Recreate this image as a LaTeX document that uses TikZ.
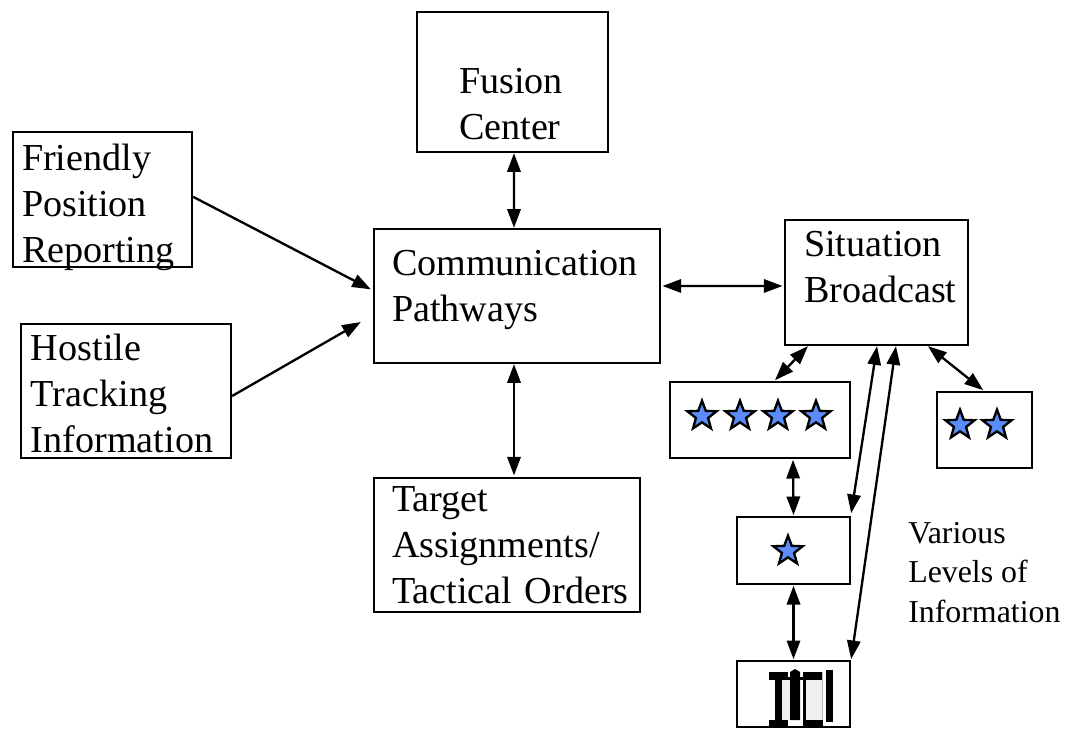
\documentclass[tikz,border=0pt]{standalone}
\usepackage{fontspec}
\setmainfont{Liberation Serif}
\usetikzlibrary{arrows.meta,shapes.geometric}

\tikzset{
  txtbox/.style={draw,line width=1.75pt,inner ysep=0pt,align=left,font=\fontsize{28.6}{34.5}\selectfont},
  rankbox/.style={draw,line width=1.75pt},
  rankstar/.style={draw,line width=1.75pt,fill=starblue,star,star points=5,star point ratio=2.4,minimum size=23pt,inner sep=0pt},
  link/.style={line width=1.75pt,{Triangle[length=14pt,width=10pt]}-{Triangle[length=14pt,width=10pt]}},
  feed/.style={line width=1.75pt,-{Triangle[length=14pt,width=10pt]}}
}
\definecolor{starblue}{RGB}{90,140,250}

\begin{document}
\begin{tikzpicture}[x=0.75pt,y=0.75pt,yscale=-1,xscale=1]
\useasboundingbox (0,0) rectangle (1070,730);

%Shape: Text boxes
\node (fusion) [txtbox,minimum width=143.25pt,minimum height=105pt,inner xsep=31.5pt,text width=80.25pt,text height=52.5pt] at (512.5,82) {Fusion\\Center};
\node (friendly) [txtbox,minimum width=134.25pt,minimum height=101.25pt,inner xsep=6.75pt,text width=120.75pt,text height=16.5pt,text depth=60pt] at (102.5,199.5) {Friendly\\Position\\Reporting};
\node (hostile) [txtbox,minimum width=157.5pt,minimum height=100.5pt,inner xsep=7.5pt,text width=142.5pt,text height=24pt] at (126,391) {Hostile\\Tracking\\Information};
\node (comm) [txtbox,minimum width=214.5pt,minimum height=100.5pt,inner xsep=13.5pt,text width=187.5pt,text depth=49.7pt] at (517,296) {Communication\\Pathways};
\node (target) [txtbox,minimum width=199.5pt,minimum height=100.5pt,inner xsep=13.5pt,text width=172.5pt] at (507,545) {Target\\Assignments/\\\mbox{Tactical Orders}};
\node (situation) [txtbox,minimum width=137.25pt,minimum height=93.75pt,inner xsep=14.25pt,text width=108.75pt,text depth=57.3pt] at (876.5,282.5) {Situation\\Broadcast};

%Shape: Rank boxes
\node (fourstars) [rankbox,minimum width=135pt,minimum height=57pt] at (760,420) {};
\node (twostars) [rankbox,minimum width=71.25pt,minimum height=57pt] at (984.5,430) {};
\node (onestar) [rankbox,minimum width=84.75pt,minimum height=50.25pt] at (793.5,550.5) {};
\node (troops) [rankbox,minimum width=84.75pt,minimum height=49.5pt] at (793.5,694) {};

%Shape: Stars
\node (stara) [rankstar] at (702,416) {};
\node (starb) [rankstar] at (740,416) {};
\node (starc) [rankstar] at (778,416) {};
\node (stard) [rankstar] at (816,416) {};
\node (stare) [rankstar] at (960,425) {};
\node (starf) [rankstar] at (997,425) {};
\node (starg) [rankstar] at (788,551) {};

%Shape: Troop glyph
\fill [black!6] (782,680) rectangle (790,720);
\fill [black!6] (806,680) rectangle (822,720);
\draw [black!25,line width=0.6pt] (822,672) -- (822,720);
\fill (769,672) rectangle (788,680);
\fill (775,680) rectangle (782,720);
\fill (769,720) rectangle (788,728);
\fill (790,672) -- (795,669) -- (800,672) -- (800,720) -- (790,720) -- cycle;
\fill (788,677) rectangle (803,680);
\fill (803,720) rectangle (823,728);
\fill (803,672) rectangle (822,680);
\fill (803,680) rectangle (805.5,720);
\fill (826,670) rectangle (833,722);

%Straight Lines
\draw [link] ([xshift=1.1pt]fusion.south) -- ([xshift=-2.25pt]comm.north);
\draw [feed] ([yshift=-2pt]friendly.east) -- ([xshift=-1.5pt,yshift=-5pt]comm.west);
\draw [feed] ([yshift=3.75pt]hostile.east) -- ([xshift=-9pt,yshift=19.5pt]comm.west);
\draw [link] ([xshift=1pt,yshift=-7.5pt]comm.east) -- ([xshift=-1pt,yshift=2.6pt]situation.west);
\draw [link] ([xshift=-2.25pt,yshift=0pt]comm.south) -- ([xshift=5.25pt,yshift=-1pt]target.north);
\draw [link] ([xshift=-51.4pt]situation.south) -- ([xshift=11.25pt,yshift=-0.5pt]fourstars.north);
\draw [link] ([xshift=38.6pt]situation.south) -- ([xshift=-1pt,yshift=-0.5pt]twostars.north);
\draw [link] ([xshift=0.4pt]situation.south) -- ([yshift=-2pt]onestar.north east);
\draw [link] ([xshift=14.6pt]situation.south) -- ([yshift=-0.5pt]troops.north east);
\draw [link] ([xshift=24.75pt,yshift=0.5pt]fourstars.south) -- ([yshift=-0.5pt]onestar.north);
\draw [link] ([yshift=0.5pt]onestar.south) -- ([yshift=-0.5pt]troops.north);

% Text Node
\node (levels) [anchor=north west,inner sep=0pt,align=left,font=\fontsize{23.9}{29.6}\selectfont] at (908,522) {Various\\Levels of\\Information};
\end{tikzpicture}
\end{document}
